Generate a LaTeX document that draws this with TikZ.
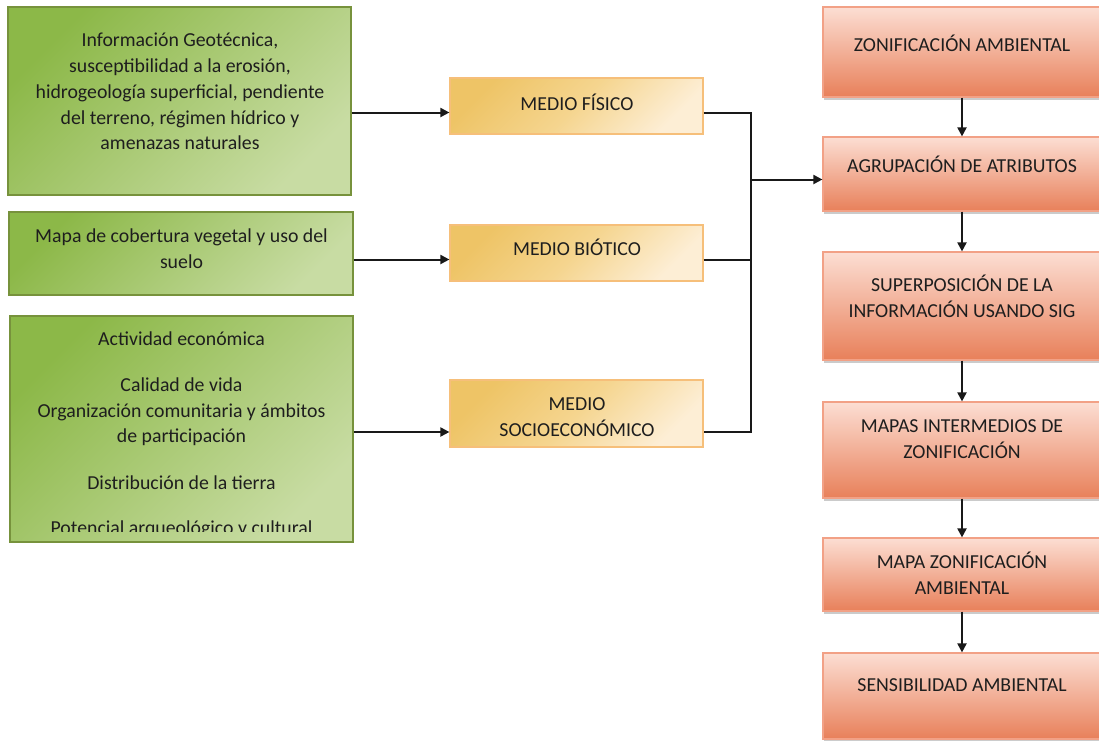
\documentclass[tikz,border=0pt]{standalone}
\usepackage{fontspec}
\setmainfont{Carlito}
\usetikzlibrary{arrows.meta,shadows}
\definecolor{verdeA}{HTML}{8CB848}
\definecolor{verdeB}{HTML}{77923C}
\definecolor{verdeC}{HTML}{C8DCA3}
\definecolor{oroA}{HTML}{EEC466}
\definecolor{oroM}{HTML}{F5D58F}
\definecolor{oroB}{HTML}{F6BF7A}
\definecolor{oroC}{HTML}{FDEED5}
\definecolor{rojoA}{HTML}{FCDED3}
\definecolor{rojoB}{HTML}{F2A186}
\definecolor{rojoC}{HTML}{E8805A}
\definecolor{tinta}{HTML}{1E1E1E}
\tikzset{
  fuente/.style={rectangle, draw=verdeB, line width=0.6pt, top color=verdeA, bottom color=verdeC, shading angle=45, inner sep=0pt},
  medio/.style={rectangle, draw=oroB, line width=0.6pt, top color=oroA, bottom color=oroC, middle color=oroM, shading angle=45, inner sep=0pt, minimum width=126.5pt},
  paso/.style={rectangle, draw=rojoB, line width=0.6pt, top color=rojoA, bottom color=rojoC, inner sep=0pt, minimum width=139pt,
    drop shadow={shadow xshift=0.5pt, shadow yshift=-1.5pt, fill=black!40, opacity=0.5}},
  txt/.style={align=center, inner sep=0pt, text=tinta, font=\fontsize{9.9pt}{12.9pt}\selectfont},
  arr/.style={draw=black!90, line width=1pt, -{Triangle[length=4.5pt,width=4.5pt]}},
  lin/.style={draw=black!90, line width=1pt}
}
\begin{document}
\begin{tikzpicture}[x=0.5pt, y=-0.5pt]
\clip (0,0) rectangle (1099,740);
\fill[white] (0,0) rectangle (1099,740);
\node[fuente, minimum width=171.5pt, minimum height=94pt] (fue0) at (179.5,101){};
\node[txt] (fue0t) at (180,91.5){Información Geotécnica,\\susceptibilidad a la erosión,\\hidrogeología superficial, pendiente\\del terreno, régimen hídrico y\\amenazas naturales};
\node[fuente, minimum width=172pt, minimum height=41.5pt] (fue1) at (181,253.5){};
\node[txt] (fue1t) at (181.5,249){Mapa de cobertura vegetal y uso del\\suelo};
\node[fuente, minimum width=171.5pt, minimum height=113pt] (fue2) at (181.5,429){};
\begin{scope}
\clip (fue2.north west) rectangle ([yshift=5.5pt]fue2.south east);
\node[txt] (fue2t) at (181.5,435){Actividad económica\\[10pt]Calidad de vida\\Organización comunitaria y ámbitos\\de participación\\[10.5pt]Distribución de la tierra\\[9.6pt]Potencial arqueológico y cultural};
\end{scope}
\node[medio, minimum height=28pt] (med0) at (576.5,106){};
\node[txt] (med0t) at (577,102){MEDIO FÍSICO};
\node[medio, minimum height=28pt] (med1) at (576.5,253){};
\node[txt] (med1t) at (577,247){MEDIO BIÓTICO};
\node[medio, minimum height=33.5pt] (med2) at (576.5,413.5){};
\node[txt] (med2t) at (577,417.5){MEDIO\\SOCIOECONÓMICO};
\node[paso, minimum height=45pt] (zon0) at (962,52){};
\node[txt] (zon0t) at (962,43){ZONIFICACIÓN AMBIENTAL};
\node[paso, minimum height=37pt] (zon1) at (962,174){};
\node[txt] (zon1t) at (962,164){AGRUPACIÓN DE ATRIBUTOS};
\node[paso, minimum height=54pt] (zon2) at (962,306){};
\node[txt] (zon2t) at (962,296){SUPERPOSICIÓN DE LA\\INFORMACIÓN USANDO SIG};
\node[paso, minimum height=48pt] (zon3) at (962,450){};
\node[txt] (zon3t) at (962,439.5){MAPAS INTERMEDIOS DE\\ZONIFICACIÓN};
\node[paso, minimum height=36.5pt] (zon4) at (962,574.5){};
\node[txt] (zon4t) at (962,573){MAPA ZONIFICACIÓN\\AMBIENTAL};
\node[paso, minimum height=43pt] (zon5) at (962,696){};
\node[txt] (zon5t) at (962,685){SENSIBILIDAD AMBIENTAL};
\coordinate (lvl0) at (751,112.5);
\coordinate (lvl1) at (751,259.5);
\coordinate (lvl2) at (751,432);
\coordinate (junta) at (751,179.5);
\draw[arr] (fue0.east |- lvl0) -- (med0.west |- lvl0);
\draw[arr] (fue1.east |- lvl1) -- (med1.west |- lvl1);
\draw[arr] (fue2.east |- lvl2) -- (med2.west |- lvl2);
\draw[lin] (med0.east |- lvl0) -- (lvl0) -- (lvl2) -- (med2.east |- lvl2);
\draw[lin] (med1.east |- lvl1) -- (lvl1);
\draw[arr] (junta) -- (zon1.west |- junta);
\draw[arr] (zon0) -- (zon1);
\draw[arr] (zon1) -- (zon2);
\draw[arr] (zon2) -- (zon3);
\draw[arr] (zon3) -- (zon4);
\draw[arr] (zon4) -- (zon5);
\end{tikzpicture}
\end{document}
